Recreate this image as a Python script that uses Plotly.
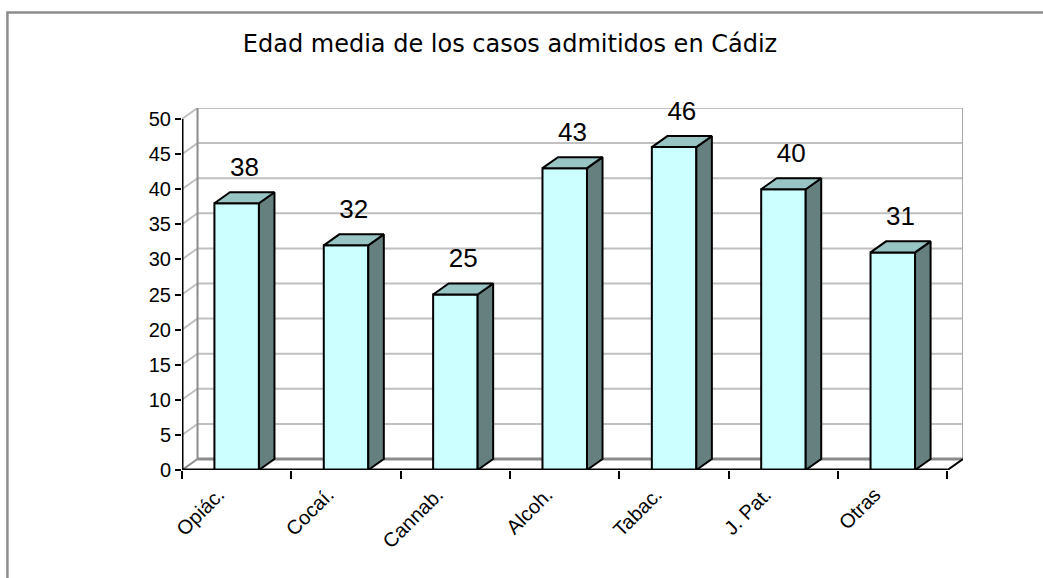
import plotly.graph_objects as go

categorias = ["Opiác.", "Cocaí.", "Cannab.", "Alcoh.", "Tabac.", "J. Pat.", "Otras"]
edad_media = [38, 32, 25, 43, 46, 40, 31]
y_ticks = [0, 5, 10, 15, 20, 25, 30, 35, 40, 45, 50]

# 3D look: depth offset in data units
DX = 0.142
DY = 1.57
W = 0.407
n = len(categorias)
xs = list(range(n))

front_col = "#CCFFFF"
top_col = "#99C4C4"
side_col = "#668080"

fig = go.Figure()

# front faces
fig.add_trace(go.Bar(x=xs, y=edad_media, width=W,
                     marker=dict(color=front_col, line=dict(color="black", width=2)),
                     hoverinfo="skip"))

# side and top faces
for c, v in zip(xs, edad_media):
    r = c + W / 2
    l = c - W / 2
    fig.add_trace(go.Scatter(x=[r, r + DX, r + DX, r, r], y=[0, DY, v + DY, v, 0],
                             fill="toself", fillcolor=side_col, mode="lines",
                             line=dict(color="black", width=2), hoverinfo="skip"))
    fig.add_trace(go.Scatter(x=[l, l + DX, r + DX, r, l], y=[v, v + DY, v + DY, v, v],
                             fill="toself", fillcolor=top_col, mode="lines",
                             line=dict(color="black", width=2), hoverinfo="skip"))

# value labels
fig.add_trace(go.Scatter(x=[c + DX / 2 for c in xs], y=[v + DY + 1.4 for v in edad_media],
                         mode="text", text=[str(v) for v in edad_media],
                         textposition="top center",
                         textfont=dict(family="Liberation Sans, Arial", size=26, color="black"),
                         hoverinfo="skip", cliponaxis=False))

x0, x1 = -0.5, n - 0.5
shapes = []
# walls gridlines
for v in y_ticks[1:]:
    shapes.append(dict(type="path", layer="below",
                       path=f"M {x0},{v} L {x0 + DX},{v + DY} L {x1 + DX},{v + DY}",
                       line=dict(color="#C0C0C0", width=2)))
# back wall edges
shapes.append(dict(type="line", layer="below", x0=x0 + DX, y0=DY, x1=x0 + DX, y1=50 + DY,
                   line=dict(color="#8C8C8C", width=2)))
shapes.append(dict(type="line", layer="below", x0=x1 + DX, y0=DY, x1=x1 + DX, y1=50 + DY,
                   line=dict(color="#A8A8A8", width=2)))
# floor
shapes.append(dict(type="line", layer="below", x0=x0 + DX, y0=DY, x1=x1 + DX, y1=DY,
                   line=dict(color="#8C8C8C", width=3)))
shapes.append(dict(type="line", layer="below", x0=x0, y0=0, x1=x0 + DX, y1=DY,
                   line=dict(color="#8C8C8C", width=2)))
shapes.append(dict(type="line", layer="above", x0=x1, y0=0, x1=x1 + DX, y1=DY,
                   line=dict(color="black", width=2)))
shapes.append(dict(type="line", layer="above", x0=x0, y0=0, x1=x1, y1=0,
                   line=dict(color="black", width=3)))
# y axis line
shapes.append(dict(type="line", layer="above", x0=x0, y0=0, x1=x0, y1=50,
                   line=dict(color="black", width=3)))
# outer border
shapes.append(dict(type="rect", xref="paper", yref="paper",
                   x0=(7.5 - 182) / 780.7, x1=2, y0=-2, y1=(470 - 11.5) / 362.7,
                   line=dict(color="#8C8C8C", width=2.5)))

fig.update_layout(
    width=1043, height=578,
    margin=dict(l=182, r=80, t=108, b=108),
    paper_bgcolor="white", plot_bgcolor="white",
    showlegend=False,
    shapes=shapes,
    title=dict(text="Edad media de los casos admitidos en Cádiz",
               x=510 / 1043, xanchor="center", y=1 - 44 / 578, yanchor="middle",
               font=dict(family="DejaVu Sans, Verdana", size=24, color="black")),
    xaxis=dict(range=[x0, x1 + DX], tickvals=xs, ticktext=categorias, tickangle=-45,
               ticks="", showgrid=False, zeroline=False, showline=False,
               ticklabelshift=-18, ticklabelstandoff=8,
               tickfont=dict(family="Liberation Sans, Arial", size=20, color="black"),
               minor=dict(tickvals=[x0 + i for i in range(n + 1)], ticks="outside",
                          ticklen=8, tickwidth=2, tickcolor="black", showgrid=False)),
    yaxis=dict(range=[0, 50 + DY], tickvals=y_ticks, ticks="outside", ticklen=6,
               tickwidth=2, tickcolor="black", showgrid=False, zeroline=False,
               showline=False,
               tickfont=dict(family="Liberation Sans, Arial", size=20, color="black")),
)

# page body has a default 8px margin; drop it so the figure sits at the window corner
fig.write_html("out.html", config={"displayModeBar": False},
               post_script="document.body.style.margin='0';")
